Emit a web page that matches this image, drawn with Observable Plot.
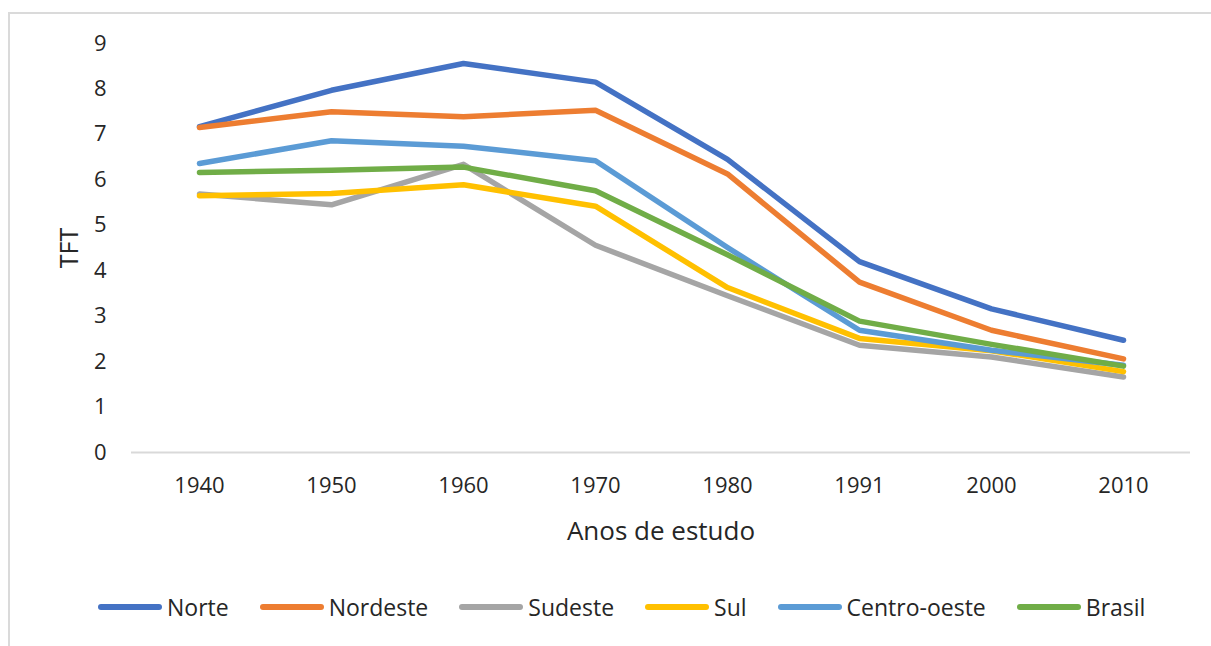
<!DOCTYPE html>
<html>
<head>
<meta charset="utf-8">
<script src="https://cdn.jsdelivr.net/npm/d3@7"></script>
<script src="https://cdn.jsdelivr.net/npm/@observablehq/plot@0.6"></script>
<style>
  html, body { margin: 0; padding: 0; background: #fff; }
  body { width: 1211px; height: 646px; position: relative; overflow: hidden; font-family: "Open Sans", sans-serif; }
  #frame { position: absolute; left: 8px; top: 12px; width: 1300px; height: 700px; border-top: 2px solid #dadada; border-left: 2px solid #dadada; }
  #chart { position: absolute; left: 0; top: 0; }
  #legend { position: absolute; left: 98px; top: 591px; display: flex; align-items: center; font-size: 23px; color: #262626; }
  .item { display: flex; align-items: center; margin-right: 31px; }
  .swatch { width: 64px; height: 6px; border-radius: 3px; margin-right: 5px; }
</style>
</head>
<body>
<div id="frame"></div>
<div id="chart"></div>
<div id="legend"></div>
<script>
const years = ["1940", "1950", "1960", "1970", "1980", "1991", "2000", "2010"];
const seriesNames = ["Norte", "Nordeste", "Sudeste", "Sul", "Centro-oeste", "Brasil"];
const norte       = [7.17, 7.97, 8.56, 8.15, 6.45, 4.20, 3.16, 2.47];
const nordeste    = [7.15, 7.50, 7.39, 7.53, 6.13, 3.75, 2.69, 2.06];
const sudeste     = [5.69, 5.45, 6.34, 4.56, 3.45, 2.36, 2.10, 1.66];
const sul         = [5.65, 5.70, 5.89, 5.42, 3.63, 2.51, 2.24, 1.78];
const centroOeste = [6.36, 6.86, 6.74, 6.42, 4.51, 2.69, 2.25, 1.92];
const brasil      = [6.16, 6.21, 6.28, 5.76, 4.35, 2.89, 2.38, 1.90];
const yTicks = [0, 1, 2, 3, 4, 5, 6, 7, 8, 9];
const colors = ["#4472C4", "#ED7D31", "#A5A5A5", "#FFC000", "#5B9BD5", "#70AD47"];

const allSeries = [norte, nordeste, sudeste, sul, centroOeste, brasil];
const rows = [];
seriesNames.forEach((name, i) => {
  years.forEach((yr, j) => rows.push({ serie: name, ano: yr, tft: allSeries[i][j] }));
});

const plot = Plot.plot({
  width: 1211,
  height: 570,
  marginTop: 43,
  marginBottom: 118,
  marginLeft: 131,
  marginRight: 21,
  style: { fontFamily: "Open Sans, sans-serif", fontSize: "22px", color: "#262626", background: "transparent" },
  x: { type: "point", domain: years, padding: 0.5, label: null },
  y: { domain: [0, 9], label: null },
  color: { domain: seriesNames, range: colors },
  marks: [
    Plot.ruleY([0], { stroke: "#d9d9d9", strokeWidth: 2 }),
    Plot.axisY({ ticks: yTicks, tickSize: 0, tickPadding: 25, label: null, fontSize: 22 }),
    Plot.axisX({ tickSize: 0, tickPadding: 25, label: null, fontSize: 22 }),
    Plot.text(["TFT"], { frameAnchor: "left", textAnchor: "middle", dx: -62, dy: 0, rotate: -90, fontSize: 25, fill: "#262626" }),
    Plot.text(["Anos de estudo"], { frameAnchor: "bottom", dy: 87, fontSize: 26, fill: "#262626" }),
    Plot.line(rows, { x: "ano", y: "tft", z: "serie", stroke: "serie", strokeWidth: 5.5, strokeLinejoin: "round", strokeLinecap: "round" })
  ]
});
document.getElementById("chart").appendChild(plot);

const legend = document.getElementById("legend");
seriesNames.forEach((name, i) => {
  const item = document.createElement("div");
  item.className = "item";
  const sw = document.createElement("div");
  sw.className = "swatch";
  sw.style.background = colors[i];
  const label = document.createElement("span");
  label.textContent = name;
  item.appendChild(sw);
  item.appendChild(label);
  legend.appendChild(item);
});
</script>
</body>
</html>
